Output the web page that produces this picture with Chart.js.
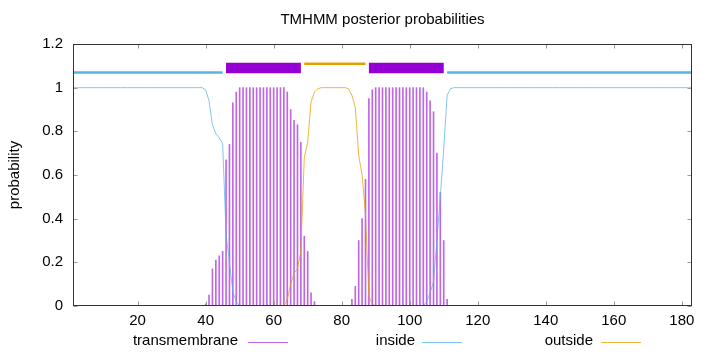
<!DOCTYPE html>
<html><head><meta charset="utf-8">
<script src="https://cdn.jsdelivr.net/npm/chart.js@4/dist/chart.umd.min.js"></script>
<style>html,body{margin:0;padding:0;background:#fff;} canvas{display:block;}</style>
</head><body>
<canvas id="c" width="720" height="352"></canvas>
<script>
// ---------- DATA ----------
const chartTitle = 'TMHMM posterior probabilities';
const yAxisTitle = 'probability';
const legendLabels = ['transmembrane', 'inside', 'outside'];
const xTicks = [20, 40, 60, 80, 100, 120, 140, 160, 180];
const yTicks = [0, 0.2, 0.4, 0.6, 0.8, 1, 1.2];
const yTickLabels = ['0', '0.2', '0.4', '0.6', '0.8', '1', '1.2'];
const xMin = 1, xMax = 183;

// posterior probability per residue (1..183)
const transmembrane = [
  0,0,0,0,0,0,0,0,0,0,            // 1-10
  0,0,0,0,0,0,0,0,0,0,            // 11-20
  0,0,0,0,0,0,0,0,0,0,            // 21-30
  0,0,0,0,0,0,0,0,0,0.01,         // 31-40
  0.05,0.17,0.21,0.23,0.25,0.67,0.74,0.93,0.98,1, // 41-50
  1,1,1,1,1,1,1,1,1,1,            // 51-60
  1,1,1,0.98,0.9,0.85,0.83,0.75,0.32,0.25, // 61-70
  0.06,0.02,0,0,0,0,0,0,0,0,      // 71-80
  0,0,0.03,0.09,0.3,0.4,0.58,0.95,0.99,1, // 81-90
  1,1,1,1,1,1,1,1,1,1,            // 91-100
  1,1,1,1,0.98,0.94,0.89,0.7,0.52,0.3, // 101-110
  0.03,0,0,0,0,0,0,0,0,0,         // 111-120
  0,0,0,0,0,0,0,0,0,0,            // 121-130
  0,0,0,0,0,0,0,0,0,0,            // 131-140
  0,0,0,0,0,0,0,0,0,0,            // 141-150
  0,0,0,0,0,0,0,0,0,0,            // 151-160
  0,0,0,0,0,0,0,0,0,0,            // 161-170
  0,0,0,0,0,0,0,0,0,0,            // 171-180
  0,0,0                           // 181-183
];
const inside = [
  1,1,1,1,1,1,1,1,1,1,            // 1-10
  1,1,1,1,1,1,1,1,1,1,            // 11-20
  1,1,1,1,1,1,1,1,1,1,            // 21-30
  1,1,1,1,1,1,1,1,1,0.99,         // 31-40
  0.94,0.83,0.79,0.77,0.745,0.33,0.2,0.066,0.02,0, // 41-50
  0,0,0,0,0,0,0,0,0,0,            // 51-60
  0,0,0,0,0,0,0,0,0,0,            // 61-70
  0,0,0,0,0,0,0,0,0,0,            // 71-80
  0,0,0,0,0,0,0,0,0,0,            // 81-90
  0,0,0,0,0,0,0,0,0,0,            // 91-100
  0,0,0,0,0.02,0.06,0.11,0.3,0.5,0.72, // 101-110
  0.965,0.995,1,1,1,1,1,1,1,1,    // 111-120
  1,1,1,1,1,1,1,1,1,1,            // 121-130
  1,1,1,1,1,1,1,1,1,1,            // 131-140
  1,1,1,1,1,1,1,1,1,1,            // 141-150
  1,1,1,1,1,1,1,1,1,1,            // 151-160
  1,1,1,1,1,1,1,1,1,1,            // 161-170
  1,1,1,1,1,1,1,1,1,1,            // 171-180
  1,1,1                           // 181-183
];
const outside = [
  0,0,0,0,0,0,0,0,0,0,            // 1-10
  0,0,0,0,0,0,0,0,0,0,            // 11-20
  0,0,0,0,0,0,0,0,0,0,            // 21-30
  0,0,0,0,0,0,0,0,0,0,            // 31-40
  0,0,0,0,0,0,0,0,0,0,            // 41-50
  0,0,0,0,0,0,0,0,0,0,            // 51-60
  0,0,0,0.03,0.1,0.15,0.17,0.25,0.68,0.75, // 61-70
  0.935,0.98,0.995,1,1,1,1,1,1,1, // 71-80
  1,0.995,0.965,0.91,0.69,0.6,0.42,0.045,0.01,0, // 81-90
  0,0,0,0,0,0,0,0,0,0,            // 91-100
  0,0,0,0,0,0,0,0,0,0,            // 101-110
  0,0,0,0,0,0,0,0,0,0,            // 111-120
  0,0,0,0,0,0,0,0,0,0,            // 121-130
  0,0,0,0,0,0,0,0,0,0,            // 131-140
  0,0,0,0,0,0,0,0,0,0,            // 141-150
  0,0,0,0,0,0,0,0,0,0,            // 151-160
  0,0,0,0,0,0,0,0,0,0,            // 161-170
  0,0,0,0,0,0,0,0,0,0,            // 171-180
  0,0,0                           // 181-183
];

// predicted topology (residue ranges) and the level at which each is drawn
const insideSegments = [[1, 45], [111, 183]];
const outsideSegments = [[69, 87]];
const tmSegments = [[46, 68], [88, 110]];
const insideLevel = 1.07;
const outsideLevel = 1.11;
const tmLevel = 1.09;

// ---------- STYLE ----------
const FONT = "'Liberation Sans', Arial, Helvetica, sans-serif";
const FS = 15;
const C_TM = '#9400D3', C_IN = '#56B4E9', C_OUT = '#E69F00';
const C_TM_THIN = 'rgba(148,0,211,0.6)';
const C_IN_THIN = 'rgba(86,180,233,0.75)';
const C_OUT_THIN = 'rgba(230,159,0,0.75)';

const residues = transmembrane.map((_, i) => i + 1);
const pts = vals => vals.map((v, i) => ({ x: residues[i], y: v }));
function segPts(segs, level) {
  const p = [];
  segs.forEach(([a, b]) => { p.push({ x: a, y: level }, { x: b, y: level }, { x: b + 0.5, y: null }); });
  return p;
}

Chart.defaults.font.family = FONT;
Chart.defaults.font.size = FS;
Chart.defaults.color = '#000';

const frame = {
  id: 'frame',
  afterDatasetsDraw(chart) {
    const { ctx, chartArea: a, scales } = chart;
    ctx.save();
    ctx.strokeStyle = '#9a9a9a';
    ctx.lineWidth = 1;
    const L = Math.round(a.left) + 0.5, R = Math.round(a.right) - 0.5;
    const T = Math.round(a.top) + 0.5, B = Math.round(a.bottom) - 0.5;
    ctx.beginPath();
    xTicks.forEach(v => {
      const x = Math.round(scales.x.getPixelForValue(v)) + 0.5;
      ctx.moveTo(x, B); ctx.lineTo(x, B - 4);
      ctx.moveTo(x, T); ctx.lineTo(x, T + 4);
    });
    yTicks.forEach(v => {
      const y = Math.round(scales.y.getPixelForValue(v)) + 0.5;
      ctx.moveTo(L, y); ctx.lineTo(L + 4, y);
      ctx.moveTo(R, y); ctx.lineTo(R - 4, y);
    });
    ctx.stroke();
    ctx.strokeStyle = '#333';
    ctx.strokeRect(L, T, R - L, B - T);
    ctx.restore();
  },
  afterDraw(chart) {
    const { ctx, chartArea: a } = chart;
    ctx.save();
    ctx.font = FS + 'px ' + FONT;
    ctx.fillStyle = '#000';
    // title centred over the plot area
    ctx.textAlign = 'center';
    ctx.textBaseline = 'middle';
    ctx.fillText(chartTitle, (a.left + a.right) / 2, 20);
    // legend
    const textRight = [238, 415, 593];
    const sampleStart = [248, 422, 601];
    const colors = [C_TM_THIN, C_IN_THIN, C_OUT_THIN];
    ctx.textAlign = 'right';
    legendLabels.forEach((lab, i) => {
      ctx.fillText(lab, textRight[i], 341);
      ctx.strokeStyle = colors[i];
      ctx.lineWidth = 1;
      ctx.beginPath();
      ctx.moveTo(sampleStart[i], 342.5);
      ctx.lineTo(sampleStart[i] + 40, 342.5);
      ctx.stroke();
    });
    ctx.restore();
  }
};

new Chart(document.getElementById('c'), {
  type: 'bar',
  data: {
    datasets: [
      { type: 'line', label: 'inside topology', data: segPts(insideSegments, insideLevel), borderColor: C_IN, borderWidth: 2.5, pointRadius: 0, spanGaps: false, order: 0 },
      { type: 'line', label: 'outside topology', data: segPts(outsideSegments, outsideLevel), borderColor: C_OUT, borderWidth: 2.5, pointRadius: 0, spanGaps: false, order: 0 },
      { type: 'line', label: 'TM topology', data: segPts(tmSegments, tmLevel), borderColor: C_TM, borderWidth: 10.5, borderCapStyle: 'butt', pointRadius: 0, spanGaps: false, order: 0 },
      { type: 'line', label: legendLabels[1], data: pts(inside), borderColor: C_IN_THIN, borderWidth: 1, pointRadius: 0, tension: 0, order: 1 },
      { type: 'line', label: legendLabels[2], data: pts(outside), borderColor: C_OUT_THIN, borderWidth: 1, pointRadius: 0, tension: 0, order: 1 },
      { type: 'bar', label: legendLabels[0], data: pts(transmembrane), backgroundColor: C_TM_THIN, borderWidth: 0, barThickness: 1, grouped: false, order: 2 }
    ]
  },
  options: {
    responsive: false,
    animation: false,
    layout: { padding: { left: 0, right: 28, top: 44, bottom: 0 } },
    plugins: {
      legend: { display: false },
      tooltip: { enabled: false },
      title: { display: false }
    },
    scales: {
      x: {
        type: 'linear', min: xMin, max: xMax, offset: false,
        grid: { display: false, drawTicks: false },
        border: { display: false },
        ticks: { padding: 6, maxRotation: 0, autoSkip: false, callback: v => String(v) },
        afterBuildTicks: s => { s.ticks = xTicks.map(v => ({ value: v })); },
        afterFit: s => { s.height = 46; }
      },
      y: {
        min: 0, max: 1.2,
        grid: { display: false, drawTicks: false },
        border: { display: false },
        ticks: { padding: 10, callback: (v) => yTickLabels[yTicks.findIndex(t => Math.abs(t - v) < 1e-9)] },
        afterBuildTicks: s => { s.ticks = yTicks.map(v => ({ value: v })); },
        title: { display: true, text: yAxisTitle, color: '#000', font: { size: FS }, padding: { top: 6, bottom: 0 } },
        afterFit: s => { s.width = 73; }
      }
    }
  },
  plugins: [frame]
});
</script>
</body></html>
